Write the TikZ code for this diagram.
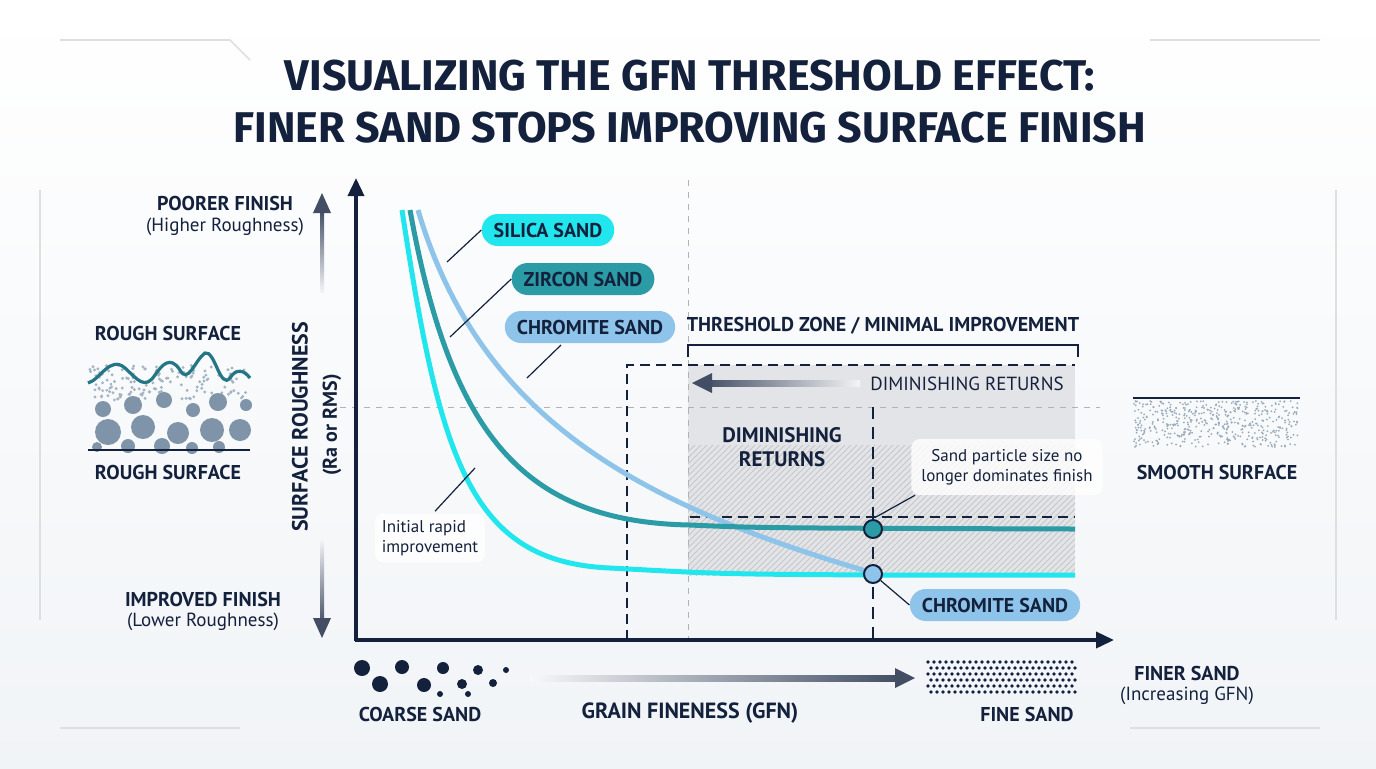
\documentclass[tikz,border=0pt]{standalone}
\usepackage{fontspec}
\setmainfont{PT Sans}
\newfontfamily\titlefont{Fira Sans}
\usetikzlibrary{patterns,arrows.meta}
\definecolor{navy}{HTML}{14213D}
\definecolor{cyanc}{HTML}{22E6EE}
\definecolor{tealc}{HTML}{2B9BA6}
\definecolor{lblue}{HTML}{8EC4EA}
\definecolor{pebble}{HTML}{7F94A8}
\definecolor{bgc}{HTML}{F1F4F7}
\tikzset{
 lbl/.style={font=\bfseries\fontsize{10}{12}\selectfont, text=navy},
 sub/.style={font=\fontsize{9.5}{11}\selectfont, text=navy},
 pill/.style={rounded corners=8pt, minimum height=16pt, inner xsep=6pt, font=\bfseries\fontsize{10}{12}\selectfont, text=navy},
 note/.style={fill=white, fill opacity=0.8, text opacity=1, rounded corners=4pt, font=\fontsize{8.5}{10}\selectfont, text=navy, align=center},
 curve/.style={line width=2.5pt},
 lead/.style={navy, line width=0.6pt},
 dk/.style={navy, dashed, line width=0.8pt, dash pattern=on 5pt off 3pt},
 lt/.style={gray!60, dashed, line width=0.5pt},
}
\begin{document}
\begin{tikzpicture}[x=0.5pt,y=-0.5pt]
\useasboundingbox (0,0) rectangle (1376,768);
\shade[top color=white,bottom color=bgc] (0,0) rectangle (1376,768);
% decorative frame
\draw[gray!25, line width=0.8pt] (40,190) -- (40,620) (60,40) -- (230,40) -- (250,60) (1336,190) -- (1336,620) (1150,40) -- (1320,40);
\draw[gray!25, line width=0.8pt] (1130,728) -- (1320,728) (60,728) -- (240,728);
% title
\node[font=\titlefont\bfseries\fontsize{21.5}{26}\selectfont, text=navy, align=center] (title) at (690,102) {VISUALIZING THE GFN THRESHOLD EFFECT:\\FINER SAND STOPS IMPROVING SURFACE FINISH};
% shaded zone
\fill[navy!12] (688,365) rectangle (1075,575);
\fill[pattern=north east lines, pattern color=gray!45] (688,445) rectangle (1075,575);
% light dashed guides
\draw[lt] (688,180) -- (688,640);
\draw[lt] (340,407) -- (1100,407);
% dark dashed
\draw[dk] (627,640) -- (627,365) -- (1075,365);
\draw[dk] (690,517) -- (1075,517);
\draw[dk, dash pattern=on 6pt off 4pt, line width=0.6pt] (873,407) -- (873,640);
% bracket
\draw[navy, line width=0.8pt] (688,357) -- (688,345) -- (1078,345) -- (1078,357);
\node[lbl] (thr) at (883,326) {THRESHOLD ZONE / MINIMAL IMPROVEMENT};
\node[sub] (dr1) at (967,384) {DIMINISHING RETURNS};
\coordinate (arre) at (692,383);
\shade[left color=navy!80, right color=navy!5] (705,380) rectangle (860,386);
\draw[-{Triangle[length=10pt,width=10pt]}, navy!80, line width=0pt] (710,383) -- (arre);
\node[lbl, align=center, font=\bfseries\fontsize{10.5}{12}\selectfont] (dr2) at (782,447) {DIMINISHING\\RETURNS};
% curves
\draw[curve, lblue] (418,210) .. controls (480,420) and (640,505) .. (873,573);
\draw[curve, tealc] (410,210) .. controls (450,430) and (520,522) .. (690,525) .. controls (760,528) .. (1075,529);
\draw[curve, cyanc] (402,210) .. controls (440,460) and (470,562) .. (610,568) .. controls (720,574) .. (873,575) -- (1075,575);
% markers
\node[circle, draw=navy, fill=tealc, line width=1pt, minimum size=9pt, inner sep=0pt] (m1) at (873,529) {};
\node[circle, draw=navy, fill=lblue, line width=1pt, minimum size=9pt, inner sep=0pt] (m2) at (873,574) {};
% axes
\draw[navy, line width=1.8pt, -{Triangle[length=9pt,width=8pt]}] (356,641) -- (356,178);
\draw[navy, line width=1.8pt, -{Triangle[length=9pt,width=8pt]}] (355,640) -- (1114,640);
% pills
\node[pill, fill=cyanc] (sil) at (548,230) {SILICA SAND};
\node[pill, fill=tealc] (zir) at (583,279) {ZIRCON SAND};
\node[pill, fill=lblue] (chr) at (590,327) {CHROMITE SAND};
\node[pill, fill=lblue] (chr2) at (995,605) {CHROMITE SAND};
\coordinate (c1) at (447,262); \coordinate (c2) at (450,337); \coordinate (c3) at (527,378);
\coordinate (c3s) at (561,345);
\draw[lead] (sil.west) -- (c1);
\draw[lead] (zir.west) -- (c2);
\draw[lead] (c3s) -- (c3);
\draw[lead] (m2) -- (chr2.west);
\node[note, align=left] (init) at (430,538) {Initial rapid\\improvement};
\coordinate (c4) at (475,468);
\draw[lead] (init.north) ++(5,-2) -- (c4);
\node[note, inner sep=5pt] (spn) at (1007,467) {Sand particle size no\\longer dominates finish};
\coordinate (c5) at (876,517);
\draw[lead] (spn.south west) ++(4,0) -- (c5);
% left labels
\node[lbl] (poor) at (225,203) {POORER FINISH};
\node[sub] (poor2) at (225,227) {(Higher Roughness)};
\node[lbl] (impr) at (203,599) {IMPROVED FINISH};
\node[sub] (impr2) at (203,622) {(Lower Roughness)};
\shade[bottom color=navy!5, top color=navy!80] (320,210) rectangle (324,292);
\draw[-{Triangle[length=10pt,width=9pt]}, navy!80, line width=0pt] (322,205) -- (322,193);
\shade[top color=navy!5, bottom color=navy!80] (320,540) rectangle (324,625);
\draw[-{Triangle[length=10pt,width=9pt]}, navy!80, line width=0pt] (322,624) -- (322,638);
\node[lbl, rotate=90, font=\bfseries\fontsize{11}{13}\selectfont] (sr) at (300,427) {SURFACE ROUGHNESS};
\node[lbl, rotate=90, font=\bfseries\fontsize{10}{12}\selectfont] (ra) at (332,425) {(Ra or RMS)};
% rough surface
\node[lbl] (rs1) at (168,333) {ROUGH SURFACE};
\node[lbl] (rs2) at (168,472) {ROUGH SURFACE};
\pgfmathsetseed{7}
\foreach \i in {1,...,160}{\pgfmathsetmacro\xx{90+158*rnd}\pgfmathsetmacro\yy{365+35*rnd}\fill[pebble!70] (\xx,\yy) circle (0.8pt);}
\foreach \x/\y/\r in {103/409/8,133/405/9,164/400/8,193/410/7,218/402/9,246/405/6,108/432/13,143/427/12,178/433/11,212/430/12,240/430/11,128/446/7,162/446/8,219/447/6,97/447/5,192/448/6}
 \fill[pebble] (\x,\y) circle ({\r*0.5pt});
\draw[navy, line width=0.8pt] (88,450) -- (250,450);
\draw[tealc!70!navy, line width=1.6pt] (88,383) .. controls (100,380) and (110,355) .. (125,368) .. controls (138,380) and (145,390) .. (155,375) .. controls (162,365) and (170,355) .. (180,370) .. controls (188,385) and (195,360) .. (205,353) .. controls (215,350) and (220,390) .. (230,378) .. controls (236,368) and (244,370) .. (250,378);
% smooth surface
\draw[navy, line width=0.8pt] (1133,398) -- (1300,398);
\pgfmathsetseed{11}
\foreach \i in {1,...,500}{\pgfmathsetmacro\xx{1134+165*rnd}\pgfmathsetmacro\yy{401+46*rnd}\fill[pebble!80] (\xx,\yy) circle (0.5pt);}
\node[lbl] (ss) at (1217,472) {SMOOTH SURFACE};
% bottom
\foreach \x/\y/\r in {362/668/8,380/684/8,402/667/7,424/685/7,443/668/6,462/684/5,478/670/5,493/683/4,506/670/3,468/694/3,440/694/3}
 \fill[navy] (\x,\y) circle ({\r*0.5pt});
\node[lbl] (cs) at (420,714) {COARSE SAND};
\shade[left color=navy!3, right color=navy!80] (530,675) rectangle (900,681);
\draw[-{Triangle[length=10pt,width=10pt]}, navy!80, line width=0pt] (898,678) -- (915,678);
\node[lbl, font=\bfseries\fontsize{11}{13}\selectfont] (gfn) at (690,713) {GRAIN FINENESS (GFN)};
\foreach \i in {0,...,24}{\foreach \j in {0,...,5}{\pgfmathsetmacro\off{mod(\j,2)*3}\fill[navy] (928+\i*6+\off,662+\j*6) circle (0.9pt);}}
\node[lbl] (fs) at (1027,714) {FINE SAND};
\node[lbl] (fin) at (1187,673) {FINER SAND};
\node[sub] (fin2) at (1187,696) {(Increasing GFN)};
\end{tikzpicture}
\end{document}
